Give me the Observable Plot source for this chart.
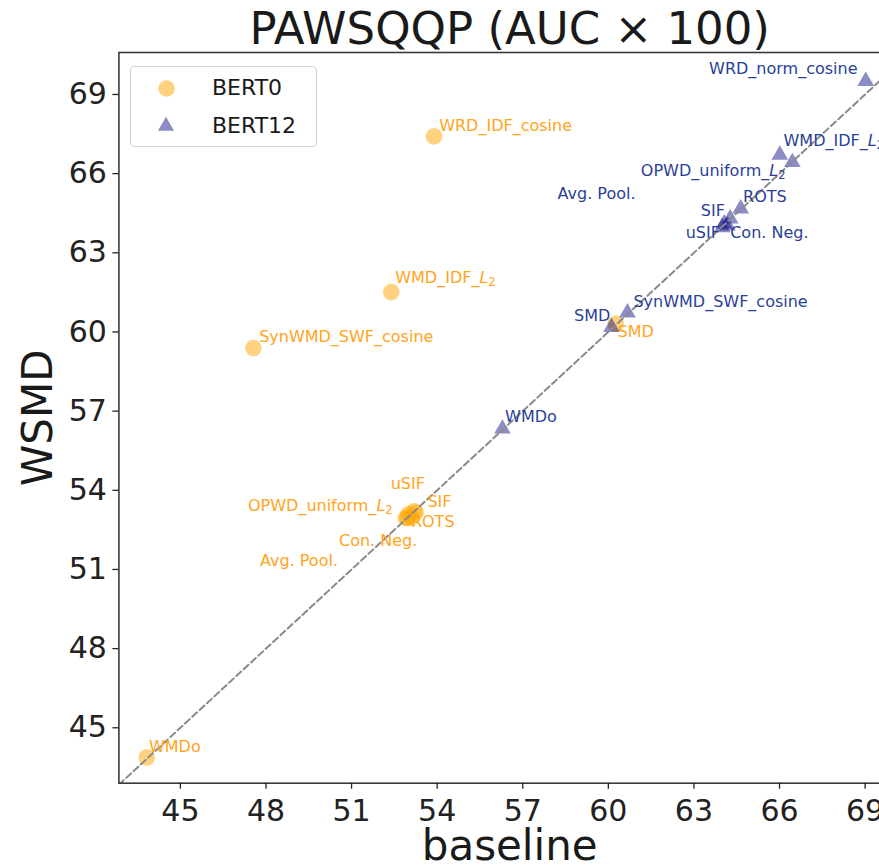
<!DOCTYPE html>
<html><head><meta charset="utf-8">
<script src="https://cdn.jsdelivr.net/npm/d3@7"></script>
<script src="https://cdn.jsdelivr.net/npm/@observablehq/plot@0.6"></script>
<style>
html,body{margin:0;padding:0;background:#fff;overflow:hidden;}
#wrap{position:relative;width:879px;height:865px;overflow:hidden;}
#wrap svg{display:block;max-width:none !important;}
#legend{position:absolute;left:0;top:0;pointer-events:none;}
</style></head><body><div id="wrap"></div>
<script>
// ---- data ----
const title = "PAWSQQP (AUC × 100)";
const xLabel = "baseline";
const yLabel = "WSMD";
const series = ["BERT0", "BERT12"];

const methods0   = ["WMDo","SynWMD_SWF_cosine","WMD_IDF_L2","WRD_IDF_cosine","SMD","uSIF","OPWD_uniform_L2","SIF","ROTS","Con. Neg.","Avg. Pool."];
const baseline0  = [43.82, 47.56, 52.39, 53.89, 60.26, 53.20, 52.95, 53.25, 53.10, 53.00, 52.90];
const wsmd0      = [43.87, 59.39, 61.51, 67.41, 60.31, 53.20, 52.95, 53.15, 52.95, 53.10, 52.95];
const labelX0    = [43.90, 47.76, 52.53, 54.07, 60.32, 52.37, 47.37, 53.66, 53.08, 50.56, 47.79];
const labelY0    = [44.26, 59.80, 62.05, 67.82, 59.99, 54.26, 53.42, 53.55, 52.79, 52.07, 51.31];

const methods12  = ["WMDo","SMD","SynWMD_SWF_cosine","WRD_norm_cosine","WMD_IDF_L2","OPWD_uniform_L2","ROTS","SIF","uSIF","Con. Neg.","Avg. Pool."];
const baseline12 = [56.29, 60.11, 60.67, 69.02, 66.45, 66.01, 64.64, 64.27, 64.06, 64.18, 63.99];
const wsmd12     = [56.33, 60.18, 60.73, 69.50, 66.43, 66.71, 64.67, 64.29, 64.10, 64.03, 63.96];
const labelX12   = [56.38, 58.80, 60.88, 63.53, 66.14, 61.14, 64.72, 63.24, 62.71, 64.27, 58.22];
const labelY12   = [56.77, 60.62, 61.13, 69.97, 67.25, 66.12, 65.11, 64.60, 63.76, 63.76, 65.23];

const xTicks = [45, 48, 51, 54, 57, 60, 63, 66, 69];
const yTicks = [45, 48, 51, 54, 57, 60, 63, 66, 69];
const xDomain = [42.845, 70.24];
const yDomain = [42.9, 70.59];

// ---- build tables ----
const rows0 = methods0.map((m, i) => ({name: m, x: baseline0[i], y: wsmd0[i], lx: labelX0[i], ly: labelY0[i]}));
const rows12 = methods12.map((m, i) => ({name: m, x: baseline12[i], y: wsmd12[i], lx: labelX12[i], ly: labelY12[i]}));
const lo = Math.min(xDomain[0], yDomain[0]), hi = Math.max(xDomain[1], yDomain[1]);
const diag = [{x: lo, y: lo}, {x: hi, y: hi}];

const ORANGE = "#FFA500", NAVY = "#000080";
const LABEL0 = "#FFA41B", LABEL12 = "#2B3F99";
const FONT = "DejaVu Sans, Liberation Sans, sans-serif";

const svg = Plot.plot({
  width: 930, height: 865,
  marginLeft: 118.4, marginRight: 30, marginTop: 52, marginBottom: 82.3,
  style: {fontFamily: FONT, background: "#fff", overflow: "visible", maxWidth: "none"},
  x: {domain: xDomain},
  y: {domain: yDomain},
  marks: [
    Plot.dot(rows0, {x: "x", y: "y", r: 8.3, fill: ORANGE, fillOpacity: 0.5, stroke: "none"}),
    Plot.dot(rows12, {x: "x", y: "y", symbol: "triangle", r: 6.2, fill: NAVY, fillOpacity: 0.45, stroke: "none"}),
    Plot.line(diag, {x: "x", y: "y", stroke: "#8a8a8a", strokeWidth: 2, strokeDasharray: "6.5,3.5", clip: true}),
    Plot.text(rows0, {x: "lx", y: "ly", text: "name", textAnchor: "start", fill: LABEL0, fontSize: 16}),
    Plot.text(rows12, {x: "lx", y: "ly", text: "name", textAnchor: "start", fill: LABEL12, fontSize: 16}),
    Plot.frame({stroke: "#3a3a3a", strokeWidth: 1.6}),
    Plot.axisX(xTicks, {tickSize: 6, tickPadding: 10, fontSize: 30, label: null, color: "#222", strokeWidth: 1.3}),
    Plot.axisY(yTicks, {tickSize: 6, tickPadding: 6, fontSize: 30, label: null, color: "#222", strokeWidth: 1.3}),
    Plot.text([title], {frameAnchor: "top", lineAnchor: "middle", textAnchor: "middle", dy: -23, fontSize: 45, fill: "#1a1a1a"}),
    Plot.text([xLabel], {frameAnchor: "bottom", lineAnchor: "middle", textAnchor: "middle", dy: 63, fontSize: 42, fill: "#1a1a1a"}),
    Plot.text([yLabel], {frameAnchor: "left", lineAnchor: "middle", textAnchor: "middle", dx: -80, rotate: -90, fontSize: 42, fill: "#1a1a1a"})
  ]
});
svg.style.maxWidth = "none";
svg.style.width = "930px";
svg.style.height = "865px";
document.getElementById("wrap").appendChild(svg);

// italic L with subscript 2 in the "_L2" labels
d3.select(svg).selectAll("text").each(function() {
  if (this.childElementCount === 0 && this.textContent.endsWith("_L2")) {
    const base = this.textContent.slice(0, -2);
    this.textContent = base;
    const s = d3.select(this);
    s.append("tspan").attr("font-style", "italic").text("L");
    s.append("tspan").attr("dy", "0.3em").attr("font-size", "0.72em").text("2");
  }
});

// legend (inside the plot, upper-left)
const lg = d3.select("#wrap").append("svg").attr("id", "legend")
  .attr("width", 879).attr("height", 865)
  .style("font-family", FONT);
lg.append("rect").attr("x", 130.5).attr("y", 66.5).attr("width", 186).attr("height", 80)
  .attr("rx", 4).attr("fill", "#fff").attr("fill-opacity", 0.8)
  .attr("stroke", "#d4d4d4").attr("stroke-width", 1.2);
lg.append("circle").attr("cx", 166.5).attr("cy", 88.5).attr("r", 8.3)
  .attr("fill", ORANGE).attr("fill-opacity", 0.5);
lg.append("path").attr("transform", "translate(166,126)")
  .attr("d", d3.symbol(d3.symbolTriangle, 113)())
  .attr("fill", NAVY).attr("fill-opacity", 0.45);
series.forEach((s, i) => {
  lg.append("text").attr("x", 212).attr("y", i === 0 ? 87.5 : 125)
    .attr("dy", "0.35em").attr("font-size", 22).attr("fill", "#1a1a1a").text(s);
});
</script>
</body></html>
